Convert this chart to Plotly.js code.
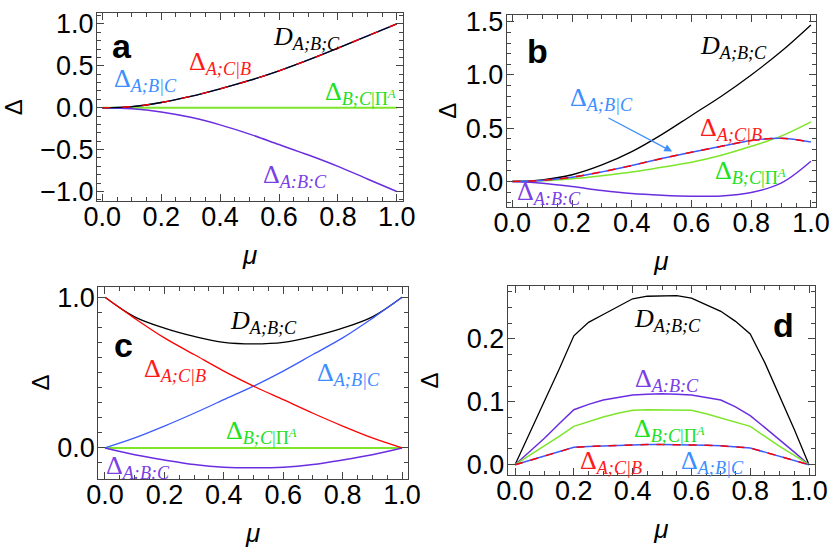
<!DOCTYPE html>
<html>
<head>
<meta charset="utf-8">
<script src="https://cdn.plot.ly/plotly-3.0.1.min.js"></script>
<style>html,body{margin:0;padding:0;background:#fff;} #chart{width:830px;height:549px;}</style>
</head>
<body>
<div id="chart"></div>
<script>
// ---------- data ----------
const muCoarse = [0, 0.1, 0.2, 0.3, 0.4, 0.5, 0.6, 0.7, 0.8, 0.9, 1.0];
const muFine = [0, 0.05, 0.1, 0.15, 0.2, 0.25, 0.3, 0.35, 0.4, 0.45, 0.5, 0.55, 0.6, 0.65, 0.7, 0.75, 0.8, 0.85, 0.9, 0.95, 1.0];

// panel a
const aD      = [0, 0.012, 0.062, 0.135, 0.225, 0.325, 0.44, 0.57, 0.71, 0.855, 1.0];
const aACB    = [0, 0.012, 0.062, 0.135, 0.225, 0.325, 0.44, 0.57, 0.71, 0.855, 1.0];
const aABC    = [0, 0.012, 0.062, 0.135, 0.225, 0.325, 0.44, 0.57, 0.71, 0.855, 1.0];
const aBCPi   = [0, 0, 0, 0, 0, 0, 0, 0, 0, 0, 0];
const aTri    = [0, -0.012, -0.05, -0.115, -0.205, -0.315, -0.44, -0.565, -0.70, -0.85, -1.0];

// panel b
const bD      = [0, 0.015, 0.063, 0.155, 0.28, 0.44, 0.62, 0.80, 1.0, 1.22, 1.47];
const bACB    = [0, 0.01, 0.04, 0.09, 0.15, 0.215, 0.275, 0.33, 0.385, 0.405, 0.37];
const bABC    = [0, 0.01, 0.04, 0.09, 0.15, 0.215, 0.275, 0.33, 0.385, 0.405, 0.37];
const bBCPi   = [0, 0.006, 0.025, 0.054, 0.088, 0.133, 0.18, 0.246, 0.33, 0.426, 0.56];
const bTri    = [0, -0.016, -0.047, -0.085, -0.114, -0.13, -0.139, -0.136, -0.104, -0.016, 0.19];

// panel c
const cD      = [1.0, 0.87, 0.795, 0.74, 0.70, 0.69, 0.70, 0.74, 0.795, 0.87, 1.0];
const cACB    = [1.0, 0.86, 0.73, 0.62, 0.51, 0.41, 0.32, 0.23, 0.145, 0.066, 0];
const cABC    = [0, 0.066, 0.145, 0.23, 0.32, 0.41, 0.51, 0.62, 0.73, 0.86, 1.0];
const cBCPi   = [0, 0, 0, 0, 0, 0, 0, 0, 0, 0, 0];
const cTri    = [0, -0.045, -0.08, -0.11, -0.128, -0.132, -0.128, -0.11, -0.08, -0.045, 0];

// panel d
const dD      = [0, 0.050, 0.101, 0.152, 0.205, 0.2265, 0.239, 0.252, 0.264, 0.268, 0.269, 0.269, 0.265, 0.255, 0.244, 0.228, 0.208, 0.162, 0.109, 0.056, 0];
const dTri    = [0, 0.021, 0.042, 0.065, 0.0875, 0.096, 0.103, 0.107, 0.111, 0.112, 0.113, 0.112, 0.111, 0.107, 0.103, 0.092, 0.078, 0.059, 0.040, 0.020, 0];
const dBCPi   = [0, 0.015, 0.029, 0.045, 0.061, 0.069, 0.076, 0.082, 0.0865, 0.0875, 0.0875, 0.0875, 0.0865, 0.081, 0.074, 0.068, 0.061, 0.045, 0.029, 0.015, 0];
const dACB    = [0, 0.007, 0.013, 0.020, 0.0276, 0.029, 0.030, 0.031, 0.032, 0.032, 0.032, 0.032, 0.032, 0.031, 0.030, 0.028, 0.0265, 0.020, 0.013, 0.007, 0];
const dABC    = [0, 0.007, 0.013, 0.020, 0.0276, 0.029, 0.030, 0.031, 0.032, 0.032, 0.032, 0.032, 0.032, 0.031, 0.030, 0.028, 0.0265, 0.020, 0.013, 0.007, 0];

// ---------- styles ----------
const COL = {
  D: '#000000', red: '#ff0000', blue: '#3b5bff', green: '#7ee52a', purple: '#6a2ee0',
  lblRed: '#ff1a1a', lblBlue: '#3d8eff', lblGreen: '#1ee01e', lblPurple: '#7b3fe6'
};

function tr(x, y, ax, color, width, shape, dash) {
  return {
    x: x, y: y, xaxis: 'x' + ax, yaxis: 'y' + ax, type: 'scatter', mode: 'lines',
    line: {color: color, width: width, shape: shape, smoothing: 1, dash: dash || 'solid'},
    showlegend: false, hoverinfo: 'skip'
  };
}
const ids = ['', '2', '3', '4'];
const data = [];
// a
data.push(tr(muCoarse, aBCPi, ids[0], COL.green, 2, 'spline'));
data.push(tr(muCoarse, aTri, ids[0], COL.purple, 1.5, 'spline'));
data.push(tr(muCoarse, aABC, ids[0], COL.blue, 1.4, 'spline'));
data.push(tr(muCoarse, aD, ids[0], COL.D, 1.3, 'spline'));
data.push(tr(muCoarse, aACB, ids[0], COL.red, 1.4, 'spline', '8px,12px'));
// b
data.push(tr(muCoarse, bD, ids[1], COL.D, 1.3, 'spline'));
data.push(tr(muCoarse, bBCPi, ids[1], COL.green, 1.5, 'spline'));
data.push(tr(muCoarse, bTri, ids[1], COL.purple, 1.5, 'spline'));
data.push(tr(muCoarse, bABC, ids[1], COL.blue, 1.5, 'spline'));
data.push(tr(muCoarse, bACB, ids[1], COL.red, 1.5, 'spline', '8px,8px'));
// c
data.push(tr(muCoarse, cD, ids[2], COL.D, 1.3, 'spline'));
data.push(tr(muCoarse, cBCPi, ids[2], COL.green, 2, 'spline'));
data.push(tr(muCoarse, cTri, ids[2], COL.purple, 1.5, 'spline'));
data.push(tr(muCoarse, cABC, ids[2], COL.blue, 1.3, 'spline'));
data.push(tr(muCoarse, cACB, ids[2], COL.red, 1.3, 'spline'));
// d
data.push(tr(muFine, dD, ids[3], COL.D, 1.3, 'linear'));
data.push(tr(muFine, dTri, ids[3], COL.purple, 1.5, 'linear'));
data.push(tr(muFine, dBCPi, ids[3], COL.green, 1.5, 'linear'));
data.push(tr(muFine, dABC, ids[3], COL.blue, 1.5, 'linear'));
data.push(tr(muFine, dACB, ids[3], COL.red, 1.5, 'linear', '8px,8px'));

const TICKFONT = {family: 'Liberation Sans, Arial, sans-serif', size: 27, color: '#000'};
function xax(domain, range, anchor, standoff) {
  return {
    domain: domain, range: range, anchor: anchor,
    showgrid: false, zeroline: false, showline: true, linecolor: '#444', linewidth: 1, mirror: 'allticks',
    ticks: 'inside', ticklen: 7, tickwidth: 1, tickcolor: '#444', tick0: 0, dtick: 0.2, tickformat: '.1f',
    tickfont: TICKFONT, ticklabelstandoff: -8,
    minor: {ticks: 'inside', ticklen: 4, tickcolor: '#444', dtick: 0.05, tick0: 0, showgrid: false},
    title: {text: '<i>μ</i>', font: {family: 'Liberation Sans, Arial, sans-serif', size: 26, color: '#000'}, standoff: standoff}
  };
}
function yax(domain, range, anchor, dtick, mdtick, standoff) {
  return {
    domain: domain, range: range, anchor: anchor,
    showgrid: false, zeroline: false, showline: true, linecolor: '#444', linewidth: 1, mirror: 'allticks',
    ticks: 'inside', ticklen: 7, tickwidth: 1, tickcolor: '#444', tick0: 0, dtick: dtick, tickformat: '.1f',
    tickfont: TICKFONT, ticklabelstandoff: -3,
    minor: {ticks: 'inside', ticklen: 4, tickcolor: '#444', dtick: mdtick, tick0: 0, showgrid: false},
    title: {text: 'Δ', font: {family: 'Liberation Sans, Arial, sans-serif', size: 24, color: '#000'}, standoff: standoff}
  };
}

const W = 830, H = 549;
const dx = (l, r) => [l / W, r / W];
const dy = (t, b) => [1 - b / H, 1 - t / H];

const LBL = 'Liberation Serif, Times New Roman, serif';
function lab(text, x, y, ax, color, size) {
  return {text: text, x: x, y: y, xref: 'x' + ax, yref: 'y' + ax, showarrow: false,
    font: {family: LBL, size: size || 26, color: color}, xanchor: 'center', yanchor: 'middle'};
}
function plab(text, x, y, ax) {
  return {text: '<b>' + text + '</b>', x: x, y: y, xref: 'x' + ax, yref: 'y' + ax, showarrow: false,
    font: {family: 'Liberation Sans, Arial, sans-serif', size: 34, color: '#000'}, xanchor: 'center', yanchor: 'middle'};
}
const tD = '<i>D</i><sub><i>A;B;C</i></sub>';
const tACB = 'Δ<sub><i>A;C|B</i></sub>';
const tABC = 'Δ<sub><i>A;B|C</i></sub>';
const tBCPi = 'Δ<sub><i>B;C</i>|Π<sup><i>A</i></sup></sub>';
const tTri = 'Δ<sub><i>A:B:C</i></sub>';

const annotations = [
  // a
  plab('a', 0.067, 0.735, ''),
  lab(tD, 0.692, 0.83, '', COL.D),
  lab(tACB, 0.40, 0.533, '', COL.lblRed),
  lab(tABC, 0.148, 0.33, '', COL.lblBlue),
  lab(tBCPi, 0.875, 0.175, '', COL.lblGreen),
  lab(tTri, 0.655, -0.815, '', COL.lblPurple),
  // b
  plab('b', 0.083, 1.228, '2'),
  lab(tD, 0.742, 1.266, '2', COL.D),
  lab(tABC, 0.30, 0.77, '2', COL.lblBlue),
  lab(tACB, 0.732, 0.49, '2', COL.lblRed),
  lab(tBCPi, 0.799, 0.092, '2', COL.lblGreen),
  lab(tTri, 0.123, -0.107, '2', COL.lblPurple),
  {text: '', x: 0.535, y: 0.281, xref: 'x2', yref: 'y2', ax: 0.317, ay: 0.603, axref: 'x2', ayref: 'y2',
   showarrow: true, arrowhead: 2, arrowsize: 1.2, arrowwidth: 1.3, arrowcolor: COL.lblBlue},
  // c
  plab('c', 0.061, 0.685, '3'),
  lab(tD, 0.535, 0.836, '3', COL.D),
  lab(tACB, 0.235, 0.517, '3', COL.lblRed),
  lab(tABC, 0.82, 0.492, '3', COL.lblBlue),
  lab(tBCPi, 0.528, 0.108, '3', COL.lblGreen),
  lab(tTri, 0.111, -0.124, '3', COL.lblPurple),
  // d
  plab('d', 0.912, 0.222, '4'),
  lab(tD, 0.52, 0.230, '4', COL.D),
  lab(tTri, 0.517, 0.135, '4', COL.lblPurple),
  lab(tBCPi, 0.527, 0.0553, '4', COL.lblGreen),
  lab(tACB, 0.327, 0.0043, '4', COL.lblRed),
  lab(tABC, 0.67, 0.0043, '4', COL.lblBlue)
];

const layout = {
  width: W, height: H, margin: {l: 0, r: 0, t: 0, b: 0},
  paper_bgcolor: '#fff', plot_bgcolor: '#fff', showlegend: false,
  xaxis:  xax(dx(97, 403), [-0.018, 1.021], 'y', 14),
  yaxis:  yax(dy(13.3, 201), [-1.113, 1.126], 'x', 0.5, 0.1, 24),
  xaxis2: xax(dx(506.7, 816), [-0.019, 1.017], 'y2', 14),
  yaxis2: yax(dy(15, 206.7), [-0.237, 1.563], 'x2', 0.5, 0.1, 2),
  xaxis3: xax(dx(98.3, 408), [-0.0225, 1.02], 'y3', 14),
  yaxis3: yax(dy(286.7, 478.5), [-0.203, 1.07], 'x3', 1, 0.1, 0),
  xaxis4: xax(dx(507.7, 815), [-0.025, 1.0204], 'y4', 14),
  yaxis4: yax(dy(286.3, 474.7), [-0.0159, 0.2838], 'x4', 0.1, 0.025, 21),
  annotations: annotations
};

Plotly.newPlot('chart', data, layout, {staticPlot: true, displayModeBar: false});
</script>
</body>
</html>
